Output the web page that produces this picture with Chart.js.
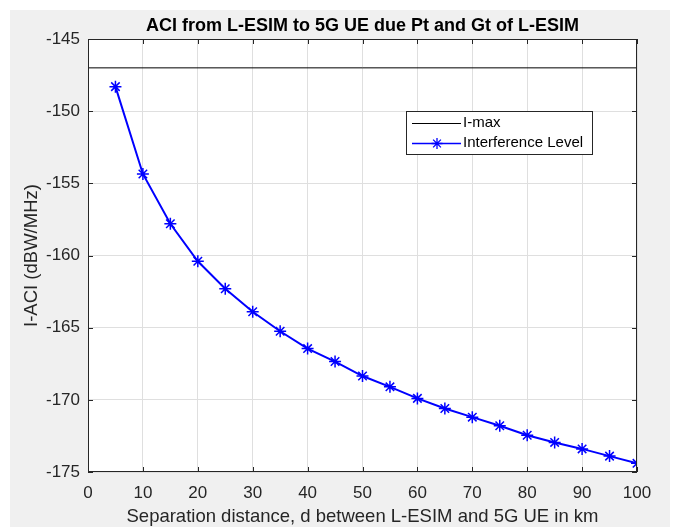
<!DOCTYPE html>
<html>
<head>
<meta charset="utf-8">
<script src="https://cdn.jsdelivr.net/npm/chart.js@4/dist/chart.umd.min.js"></script>
<style>
  html, body { margin: 0; padding: 0; background: #fff; }
  canvas { display: block; }
</style>
</head>
<body>
<canvas id="aciChart" width="675" height="528"></canvas>
<script>
const distances = [5, 10, 15, 20, 25, 30, 35, 40, 45, 50, 55, 60, 65, 70, 75, 80, 85, 90, 95, 100];
const interference = [-148.3, -154.35, -157.8, -160.4, -162.3, -163.9, -165.25, -166.45, -167.35, -168.35,
  -169.1, -169.9, -170.6, -171.2, -171.8, -172.45, -172.95, -173.4, -173.9, -174.4];
const iMaxLevel = -147;
const xRange = [0, 100];
const yRange = [-175, -145];
const legendLabels = ["I-max", "Interference Level"];
const chartTitle = "ACI from L-ESIM to 5G UE due Pt and Gt of L-ESIM";

const FONT = "'Liberation Sans', Arial, Helvetica, sans-serif";
const AXIS_COLOR = "#262626";

const figurePlugin = {
  id: "figure",
  beforeDraw(chart) {
    const { ctx, chartArea: a } = chart;
    ctx.save();
    ctx.fillStyle = "#f0f0f0";
    ctx.fillRect(10, 10, 660, 517);
    ctx.fillStyle = "#ffffff";
    ctx.fillRect(a.left, a.top, a.right - a.left, a.bottom - a.top);

    ctx.fillStyle = "#000000";
    ctx.font = "bold 18px " + FONT;
    ctx.textAlign = "center";
    ctx.textBaseline = "alphabetic";
    ctx.fillText(chartTitle, (a.left + a.right) / 2, 31);
    ctx.restore();
  },
  afterDatasetsDraw(chart) {
    const { ctx, chartArea: a, scales } = chart;
    ctx.save();
    ctx.strokeStyle = AXIS_COLOR;
    ctx.lineWidth = 1;
    // inward tick marks on all sides
    ctx.beginPath();
    scales.x.ticks.forEach((t) => {
      const px = Math.round(scales.x.getPixelForValue(t.value)) + 0.5;
      ctx.moveTo(px, a.bottom); ctx.lineTo(px, a.bottom - 5);
      ctx.moveTo(px, a.top); ctx.lineTo(px, a.top + 5);
    });
    scales.y.ticks.forEach((t) => {
      const py = Math.round(scales.y.getPixelForValue(t.value)) + 0.5;
      ctx.moveTo(a.left, py); ctx.lineTo(a.left + 5, py);
      ctx.moveTo(a.right, py); ctx.lineTo(a.right - 5, py);
    });
    ctx.stroke();
    ctx.strokeRect(a.left + 0.5, a.top + 0.5, a.right - a.left - 1, a.bottom - a.top - 1);

    // legend box inside the axes
    const bx = 406, by = 111, bw = 186, bh = 43;
    ctx.fillStyle = "#ffffff";
    ctx.fillRect(bx, by, bw, bh);
    ctx.strokeRect(bx + 0.5, by + 0.5, bw, bh);

    ctx.beginPath();
    ctx.strokeStyle = "#000000";
    ctx.moveTo(412, 123.5); ctx.lineTo(461, 123.5);
    ctx.stroke();

    ctx.beginPath();
    ctx.strokeStyle = "#0000ff";
    ctx.lineWidth = 1.5;
    ctx.moveTo(412, 143.5); ctx.lineTo(461, 143.5);
    ctx.stroke();
    ctx.lineWidth = 1.3;
    Chart.helpers.drawPoint(ctx, { pointStyle: "star", radius: 5.5, borderWidth: 1.3 }, 437, 143.5);

    ctx.fillStyle = "#000000";
    ctx.font = "15px " + FONT;
    ctx.textBaseline = "middle";
    ctx.textAlign = "left";
    ctx.fillText(legendLabels[0], 463, 123);
    ctx.fillText(legendLabels[1], 463, 143);
    ctx.restore();
  }
};

new Chart(document.getElementById("aciChart"), {
  type: "line",
  data: {
    datasets: [
      {
        label: legendLabels[0],
        data: xRange.map((x) => ({ x, y: iMaxLevel })),
        borderColor: "#000000",
        borderWidth: 1,
        pointRadius: 0
      },
      {
        label: legendLabels[1],
        data: distances.map((d, i) => ({ x: d, y: interference[i] })),
        borderColor: "#0000ff",
        backgroundColor: "#0000ff",
        borderWidth: 2,
        pointStyle: "star",
        pointRadius: 6,
        pointBorderWidth: 1.5,
        pointBorderColor: "#0000ff",
        tension: 0
      }
    ]
  },
  options: {
    responsive: false,
    animation: false,
    devicePixelRatio: 1,
    layout: { padding: { left: 0, right: 38, top: 39, bottom: 0 } },
    plugins: {
      legend: { display: false },
      tooltip: { enabled: false },
      title: { display: false }
    },
    scales: {
      x: {
        type: "linear",
        min: xRange[0],
        max: xRange[1],
        afterFit: (s) => { s.height = 56; },
        ticks: {
          stepSize: 10,
          color: AXIS_COLOR,
          font: { family: FONT, size: 17 },
          padding: 11,
          maxRotation: 0
        },
        grid: { color: "#dfdfdf", drawTicks: false },
        border: { display: false },
        title: {
          display: true,
          text: "Separation distance, d between L-ESIM and 5G UE in km",
          color: AXIS_COLOR,
          font: { family: FONT, size: 18.5 },
          padding: { top: 0, bottom: 0 }
        }
      },
      y: {
        type: "linear",
        min: yRange[0],
        max: yRange[1],
        afterFit: (s) => { s.width = 88; },
        ticks: {
          stepSize: 5,
          color: AXIS_COLOR,
          font: { family: FONT, size: 17 },
          padding: 8
        },
        grid: { color: "#dfdfdf", drawTicks: false },
        border: { display: false },
        title: {
          display: true,
          text: "I-ACI (dBW/MHz)",
          color: AXIS_COLOR,
          font: { family: FONT, size: 18.5 },
          padding: { top: 21, bottom: 0 }
        }
      }
    }
  },
  plugins: [figurePlugin]
});
</script>
</body>
</html>
